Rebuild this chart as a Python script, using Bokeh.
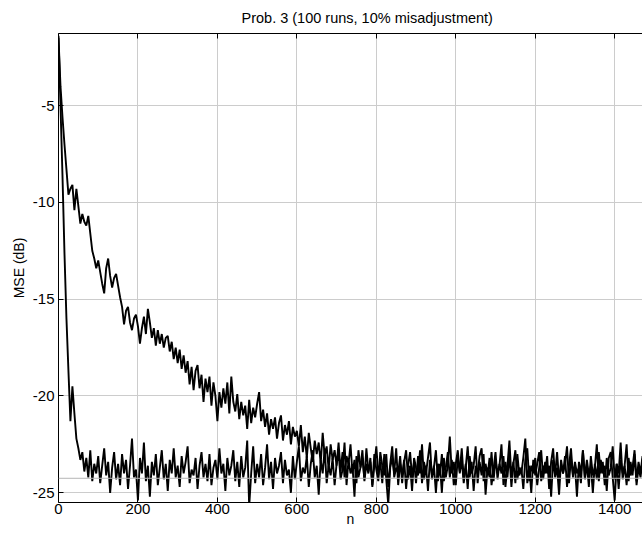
from bokeh.plotting import figure
from bokeh.models import Range1d, LinearAxis, FixedTicker, Span
from bokeh.embed import file_html
from bokeh.resources import INLINE

# sample index n (every 5th iteration)
n = list(range(0, 1500, 5))

# learning curve with the larger step size (fast convergence)
mse_fast = [
    -1.4, -5.0, -8.6, -12.6, -16.0, -18.7, -21.3, -19.5, -20.9, -22.2, -22.7, -23.3, -22.9, -23.9, -23.2, -24.2, -22.8, -24.4, -23.5, -24.0,
    -23.1, -24.5, -23.6, -22.7, -24.1, -23.4, -25.0, -23.7, -22.9, -24.3, -23.5, -24.6, -23.0, -24.0, -23.3, -24.8, -23.6, -22.2, -24.2, -23.8,
    -25.4, -23.2, -24.0, -22.4, -24.4, -23.6, -25.2, -23.4, -24.1, -23.0, -24.6, -23.7, -22.8, -24.3, -23.5, -24.9, -23.3, -24.0, -22.7, -24.2,
    -23.6, -24.7, -23.1, -24.0, -23.4, -22.6, -24.5, -23.8, -24.1, -23.2, -24.8, -23.6, -22.9, -24.2, -23.5, -24.4, -23.0, -24.6, -23.7, -23.3,
    -24.3, -22.7, -24.0, -23.5, -24.9, -23.2, -24.1, -23.6, -22.8, -24.4, -23.4, -24.7, -23.1, -24.2, -23.7, -22.3, -25.7, -24.0, -22.6, -24.5,
    -23.5, -24.2, -23.0, -24.6, -23.7, -22.5, -24.3, -23.4, -24.8, -23.2, -24.0, -23.6, -22.9, -24.5, -23.3, -24.1, -23.8, -25.0, -23.1, -24.3,
    -23.4, -22.6, -24.4, -23.7, -24.0, -23.1, -24.7, -23.5, -22.8, -24.2, -23.6, -25.1, -23.3, -24.0, -22.7, -24.5, -23.6, -24.1, -23.2, -24.6,
    -23.5, -22.9, -24.3, -23.8, -22.4, -24.6, -23.3, -24.0, -23.6, -25.2, -23.1, -24.2, -23.7, -22.8, -24.4, -23.5, -24.0, -23.2, -24.7, -23.6,
    -22.6, -24.1, -23.4, -24.5, -23.0, -24.3, -25.6, -23.7, -23.2, -24.0, -22.7, -24.6, -23.5, -24.1, -23.3, -24.8, -23.6, -22.9, -24.2, -23.4,
    -24.5, -23.1, -24.0, -22.5, -24.3, -23.6, -24.9, -23.3, -24.1, -23.7, -22.8, -24.4, -23.5, -25.0, -23.2, -24.2, -23.6, -22.1, -24.0, -23.4,
    -24.6, -23.2, -23.9, -22.7, -24.3, -23.5, -24.8, -23.1, -24.0, -23.6, -22.6, -24.5, -23.4, -24.1, -23.0, -25.1, -23.7, -24.2, -22.9, -24.4,
    -23.3, -24.0, -23.6, -22.5, -24.6, -23.4, -24.2, -23.0, -24.7, -23.5, -22.8, -24.3, -23.7, -24.0, -23.2, -22.2, -24.5, -23.6, -25.0, -23.3,
    -24.1, -23.5, -22.9, -24.4, -23.6, -24.0, -23.1, -24.8, -23.4, -22.7, -24.2, -23.7, -25.1, -23.3, -24.0, -23.5, -22.6, -24.5, -23.2, -24.1,
    -23.6, -25.2, -23.4, -24.0, -22.8, -24.3, -23.5, -24.7, -23.1, -24.1, -23.7, -22.5, -24.4, -23.3, -24.0, -23.6, -24.9, -23.2, -22.9, -24.2,
    -25.4, -23.5, -24.0, -22.4, -24.3, -23.6, -24.6, -23.2, -24.1, -23.7, -22.8, -24.4, -23.4, -24.0, -23.1, -24.7, -23.5, -22.9, -24.2, -23.6,
]

# learning curve with the smaller step size (slow convergence)
mse_slow = [
    -1.5, -4.0, -5.6, -7.0, -8.3, -9.6, -9.3, -9.1, -10.4, -9.3, -10.2, -11.1, -10.6, -11.0, -11.2, -10.7, -11.6, -12.5, -12.9, -13.4,
    -13.0, -13.6, -14.2, -14.7, -13.4, -12.9, -13.8, -14.4, -13.9, -13.7, -14.3, -14.9, -15.4, -16.3, -15.6, -15.4, -16.2, -16.6, -16.0, -15.8,
    -16.4, -17.3, -16.5, -15.9, -16.8, -15.5, -16.2, -17.0, -16.5, -17.4, -16.6, -17.3, -16.8, -17.5, -17.0, -16.9, -17.7, -17.2, -18.1, -17.5,
    -18.3, -17.6, -18.6, -17.9, -18.8, -18.2, -19.4, -18.5, -19.7, -18.7, -18.4, -19.6, -18.9, -20.3, -19.1, -19.8, -19.0, -20.5, -19.3, -20.0,
    -21.3, -19.8, -20.6, -19.6, -20.4, -19.3, -20.9, -19.0, -20.3, -20.8, -19.9, -21.2, -20.3, -21.0, -20.5, -21.7, -20.2, -21.4, -20.6, -21.1,
    -20.4, -19.8, -21.3, -20.7, -21.6, -20.9, -22.0, -21.2, -21.7, -21.1, -22.2, -21.4, -21.0, -22.3, -21.5, -22.0, -21.3, -22.5, -21.6, -22.1,
    -21.8, -22.6, -21.5, -22.9, -22.1, -23.2, -21.9, -22.7, -23.4, -22.3, -23.0, -22.4, -23.5, -21.9, -23.1, -22.6, -23.8, -22.5, -23.3, -22.8,
    -23.6, -22.4, -23.9, -22.9, -24.2, -23.1, -23.5, -22.5, -24.0, -23.3, -24.5, -22.8, -23.7, -23.2, -24.3, -22.7, -23.9, -23.4, -24.6, -23.0,
    -23.8, -24.4, -22.9, -23.6, -24.1, -23.0, -24.7, -23.5, -22.6, -24.2, -23.7, -24.0, -23.1, -24.5, -23.4, -22.8, -24.3, -23.6, -24.9, -23.2,
    -23.7, -24.1, -22.8, -24.5, -23.4, -24.0, -23.2, -22.4, -24.3, -23.6, -25.0, -23.5, -24.1, -23.0, -24.4, -23.7, -22.9, -24.2, -23.3, -24.6,
    -23.5, -22.8, -24.0, -23.3, -24.5, -23.7, -22.6, -24.2, -23.4, -24.9, -23.6, -24.0, -23.1, -22.7, -24.4, -23.5, -24.1, -23.2, -24.6, -23.8,
    -22.9, -24.3, -23.5, -24.0, -23.1, -24.7, -23.6, -22.3, -24.2, -23.4, -24.5, -23.0, -24.1, -23.7, -24.8, -23.3, -22.7, -24.4, -23.6, -24.0,
    -23.2, -24.6, -23.7, -22.8, -24.3, -23.4, -24.0, -23.6, -25.2, -23.3, -24.1, -22.9, -24.4, -23.5, -24.0, -23.1, -24.7, -23.6, -22.7, -24.2,
    -23.4, -24.0, -23.7, -24.5, -22.8, -24.2, -23.3, -24.1, -23.6, -25.0, -23.5, -24.3, -22.9, -24.0, -23.4, -24.6, -23.2, -24.1, -23.7, -22.6,
    -24.3, -23.5, -24.8, -23.3, -24.0, -23.6, -22.5, -24.4, -23.4, -24.1, -23.0, -24.6, -23.7, -24.2, -23.3, -22.8, -24.5, -23.6, -24.0, -23.2,
]

# steady-state (theoretical) MSE level
mse_floor_db = -24.25

x_ticks = [0, 200, 400, 600, 800, 1000, 1200, 1400]
y_ticks = [-25, -20, -15, -10, -5]
y_tick_labels = {-25: "-25", -20: "-20", -15: "-15", -10: "-10", -5: "-5"}

FONT = "Liberation Sans"

p = figure(width=642, height=533, output_backend="svg", toolbar_location=None,
           x_range=Range1d(0, 1470), y_range=Range1d(-25.5, -1.28),
           min_border_left=58, min_border_right=0, min_border_top=33, min_border_bottom=31)
p.background_fill_color = "white"
p.border_fill_color = "white"
p.outline_line_color = None

p.title.text = "Prob. 3 (100 runs, 10% misadjustment)"
p.title.align = "left"
p.title.offset = 183
p.title.vertical_align = "top"
p.title.text_font = FONT
p.title.text_font_size = "14.5px"
p.title.text_font_style = "normal"
p.title.text_color = "black"
p.title.standoff = 12

for ax in (p.xaxis[0], p.yaxis[0]):
    ax.major_tick_in = 5
    ax.major_tick_out = 0
    ax.minor_tick_line_color = None
    ax.axis_line_color = "black"
    ax.axis_line_width = 1
    ax.major_tick_line_color = "black"
    ax.major_label_text_font = FONT
    ax.major_label_text_font_size = "15px"
    ax.major_label_text_color = "black"
    ax.axis_label_text_font = FONT
    ax.axis_label_text_font_size = "14px"
    ax.axis_label_text_font_style = "normal"
    ax.axis_label_text_color = "black"

p.xaxis.ticker = FixedTicker(ticks=x_ticks)
p.yaxis.ticker = FixedTicker(ticks=y_ticks)
p.yaxis.major_label_overrides = y_tick_labels
p.xaxis.axis_label = "n"
p.yaxis.axis_label = "MSE (dB)"
p.xaxis.major_label_standoff = 1
p.xaxis.axis_label_standoff = -6
p.yaxis.major_label_standoff = 4
p.yaxis.axis_label_standoff = 3

top = LinearAxis(ticker=FixedTicker(ticks=x_ticks), major_tick_in=5, major_tick_out=0,
                 minor_tick_line_color=None, axis_line_color="black",
                 major_label_text_font_size="0px", major_label_text_color=None,
                 major_label_standoff=0)
p.add_layout(top, "above")

p.xgrid.ticker = FixedTicker(ticks=x_ticks)
p.ygrid.ticker = FixedTicker(ticks=y_ticks)
p.xgrid.grid_line_color = "#cccccc"
p.ygrid.grid_line_color = "#cccccc"
p.xgrid.grid_line_width = 1
p.ygrid.grid_line_width = 1

p.line(n, mse_slow, line_color="black", line_width=1.9)
p.line(n, mse_fast, line_color="black", line_width=1.9)

p.add_layout(Span(location=mse_floor_db, dimension="width", line_color="#b5b5b5", line_width=1))

open("out.html", "w").write(file_html(p, INLINE))
